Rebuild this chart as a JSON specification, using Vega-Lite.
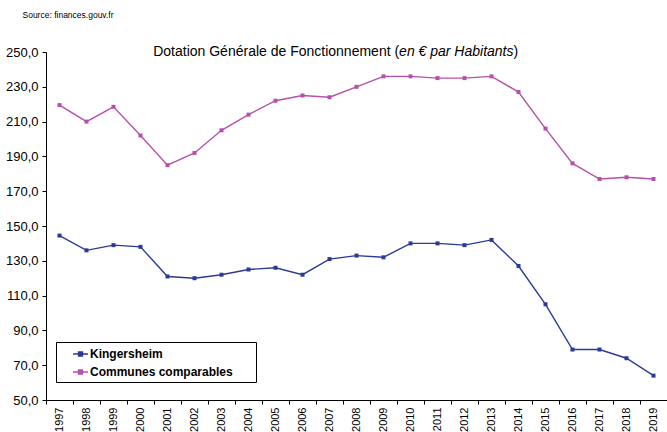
{
  "$schema": "https://vega.github.io/schema/vega-lite/v6.json",
  "width": 621,
  "height": 348,
  "autosize": {"type": "none"},
  "padding": {"left": 46, "top": 52, "right": 0, "bottom": 32},
  "background": "white",
  "config": {
    "view": {"stroke": null},
    "font": "Liberation Sans",
    "axis": {"grid": false, "domainColor": "black", "tickColor": "black", "labelColor": "black", "titleColor": "black", "labelFont": "Liberation Sans", "titleFont": "Liberation Sans"}
  },
  "title": {"text": "Source: finances.gouv.fr", "anchor": "start", "frame": "group", "fontSize": 8.5, "fontWeight": "normal", "font": "Liberation Sans", "color": "black", "baseline": "alphabetic", "dx": -23.5, "offset": 18},
  "data": {"values": [
    {"year": "1997", "series": "Kingersheim", "value": 144.5},
    {"year": "1998", "series": "Kingersheim", "value": 136},
    {"year": "1999", "series": "Kingersheim", "value": 139},
    {"year": "2000", "series": "Kingersheim", "value": 138},
    {"year": "2001", "series": "Kingersheim", "value": 121},
    {"year": "2002", "series": "Kingersheim", "value": 120},
    {"year": "2003", "series": "Kingersheim", "value": 122},
    {"year": "2004", "series": "Kingersheim", "value": 125},
    {"year": "2005", "series": "Kingersheim", "value": 126},
    {"year": "2006", "series": "Kingersheim", "value": 122},
    {"year": "2007", "series": "Kingersheim", "value": 131},
    {"year": "2008", "series": "Kingersheim", "value": 133},
    {"year": "2009", "series": "Kingersheim", "value": 132},
    {"year": "2010", "series": "Kingersheim", "value": 140},
    {"year": "2011", "series": "Kingersheim", "value": 140},
    {"year": "2012", "series": "Kingersheim", "value": 139},
    {"year": "2013", "series": "Kingersheim", "value": 142},
    {"year": "2014", "series": "Kingersheim", "value": 127},
    {"year": "2015", "series": "Kingersheim", "value": 105},
    {"year": "2016", "series": "Kingersheim", "value": 79},
    {"year": "2017", "series": "Kingersheim", "value": 79},
    {"year": "2018", "series": "Kingersheim", "value": 74},
    {"year": "2019", "series": "Kingersheim", "value": 64},
    {"year": "1997", "series": "Communes comparables", "value": 219.5},
    {"year": "1998", "series": "Communes comparables", "value": 210},
    {"year": "1999", "series": "Communes comparables", "value": 218.5},
    {"year": "2000", "series": "Communes comparables", "value": 202},
    {"year": "2001", "series": "Communes comparables", "value": 185},
    {"year": "2002", "series": "Communes comparables", "value": 192},
    {"year": "2003", "series": "Communes comparables", "value": 205},
    {"year": "2004", "series": "Communes comparables", "value": 214},
    {"year": "2005", "series": "Communes comparables", "value": 222},
    {"year": "2006", "series": "Communes comparables", "value": 225},
    {"year": "2007", "series": "Communes comparables", "value": 224},
    {"year": "2008", "series": "Communes comparables", "value": 230},
    {"year": "2009", "series": "Communes comparables", "value": 236},
    {"year": "2010", "series": "Communes comparables", "value": 236},
    {"year": "2011", "series": "Communes comparables", "value": 235},
    {"year": "2012", "series": "Communes comparables", "value": 235},
    {"year": "2013", "series": "Communes comparables", "value": 236},
    {"year": "2014", "series": "Communes comparables", "value": 227},
    {"year": "2015", "series": "Communes comparables", "value": 206},
    {"year": "2016", "series": "Communes comparables", "value": 186},
    {"year": "2017", "series": "Communes comparables", "value": 177},
    {"year": "2018", "series": "Communes comparables", "value": 178},
    {"year": "2019", "series": "Communes comparables", "value": 177}
  ]},
  "layer": [
    {
      "mark": {"type": "line", "strokeWidth": 1.4, "point": {"shape": "square", "size": 16, "filled": true, "opacity": 1}},
      "encoding": {
        "x": {
          "field": "year", "type": "ordinal", "bandPosition": 0.5,
          "scale": {"type": "band", "paddingInner": 0, "paddingOuter": 0},
          "axis": {
            "title": "en € par Habitants", "titleX": 352.6, "titleY": -344.5, "titleAlign": "left", "titleBaseline": "alphabetic",
            "titleFontStyle": "italic", "titleFontWeight": "normal", "titleFontSize": 14,
            "labelAngle": -90, "labelFontSize": 11, "labelAlign": "right", "labelBaseline": "middle", "labelPadding": 3,
            "tickBand": "extent", "tickSize": 4
          }
        },
        "y": {
          "field": "value", "type": "quantitative",
          "scale": {"domain": [50, 250], "nice": false, "zero": false},
          "axis": {
            "values": [50, 70, 90, 110, 130, 150, 170, 190, 210, 230, 250],
            "labelExpr": "replace(format(datum.value, '.1f'), '.', ',')",
            "labelFontSize": 13, "tickSize": 4, "labelPadding": 4,
            "title": ")", "titleAngle": 0, "titleX": 467, "titleY": 3.5, "titleAlign": "left", "titleBaseline": "alphabetic",
            "titleFontSize": 14, "titleFontWeight": "normal"
          }
        },
        "color": {
          "field": "series", "type": "nominal",
          "scale": {"domain": ["Kingersheim", "Communes comparables"], "range": ["#2b3a96", "#b550ab"]},
          "legend": {
            "orient": "none", "legendX": 10, "legendY": 290, "direction": "vertical",
            "title": "\u00a0", "titleOrient": "right", "titlePadding": 20, "titleFontSize": 1,
            "strokeColor": "black", "fillColor": "white", "padding": 3.5,
            "symbolType": "M-1,0H1M-0.27,-0.27H0.27V0.27H-0.27Z", "symbolSize": 225, "symbolStrokeWidth": 1.3,
            "symbolOffset": 12.5, "labelFontSize": 12, "labelFontWeight": "bold", "labelFont": "Liberation Sans",
            "labelColor": "black", "labelOffset": 1, "rowPadding": 3, "labelLimit": 300,
            "encode": {"symbols": {"update": {"fill": {"scale": "color", "field": "value"}, "stroke": {"scale": "color", "field": "value"}, "opacity": {"value": 1}}}}
          }
        }
      }
    },
    {
      "mark": {"type": "point", "opacity": 0},
      "encoding": {
        "x": {
          "field": "year", "type": "ordinal",
          "scale": {"type": "band", "paddingInner": 0, "paddingOuter": 0},
          "axis": {
            "orient": "top", "title": "Dotation Générale de Fonctionnement (", "labels": false, "ticks": false, "domain": false,
            "titleX": 106.7, "titleY": 3.5, "titleAlign": "left", "titleBaseline": "alphabetic", "titleFontSize": 14, "titleFontWeight": "normal"
          }
        }
      }
    }
  ],
  "resolve": {"axis": {"x": "independent"}}
}
